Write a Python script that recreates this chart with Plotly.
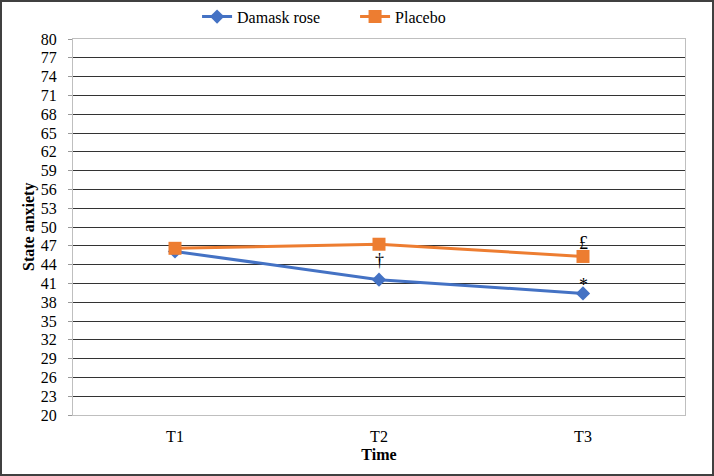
import plotly.graph_objects as go

categories = ["T1", "T2", "T3"]
damask = [46.1, 41.6, 39.4]
placebo = [46.6, 47.25, 45.3]
y_ticks = list(range(20, 81, 3))
damask_marks = ["", "†", "*"]
placebo_marks = ["", "", "£"]
damask_shift = [0, 20, 8]
placebo_shift = [0, 0, 13]

FONT = "Liberation Serif"

fig = go.Figure()
fig.add_trace(go.Scatter(
    x=categories, y=damask, name="Damask rose", mode="lines+markers",
    line=dict(color="#4472C4", width=3),
    marker=dict(symbol="diamond", size=11, color="#4472C4"),
))
fig.add_trace(go.Scatter(
    x=categories, y=placebo, name="Placebo", mode="lines+markers",
    line=dict(color="#ED7D31", width=3),
    marker=dict(symbol="square", size=13, color="#ED7D31"),
))

for c, v, t, s in zip(categories, damask, damask_marks, damask_shift):
    if t:
        fig.add_annotation(x=c, y=v, text=t, showarrow=False, yshift=s,
                           font=dict(family=FONT, size=18, color="black"))
for c, v, t, s in zip(categories, placebo, placebo_marks, placebo_shift):
    if t:
        fig.add_annotation(x=c, y=v, text=t, showarrow=False, yshift=s,
                           font=dict(family=FONT, size=18, color="black"))

W, H = 714, 476
ml, mr, mt, mb = 73, 29, 39, 61
pw, ph = W - ml - mr, H - mt - mb

fig.add_shape(type="rect", xref="paper", yref="paper",
              x0=(-ml + 1) / pw, x1=(pw + mr - 1) / pw,
              y0=(-mb + 1) / ph, y1=(ph + mt - 1) / ph,
              line=dict(color="#404040", width=2), layer="below")

# y-axis title placed as rotated text
fig.add_annotation(xref="paper", yref="paper", x=(29 - ml) / pw, y=0.5,
                   text="<b>State anxiety</b>", textangle=-90, showarrow=False,
                   xanchor="center", yanchor="middle",
                   font=dict(family=FONT, size=16, color="black"))

fig.update_layout(
    width=W, height=H,
    margin=dict(l=ml, r=mr, t=mt, b=mb, autoexpand=False),
    paper_bgcolor="white", plot_bgcolor="white",
    font=dict(family=FONT, size=16, color="black"),
    showlegend=True,
    legend=dict(orientation="h", x=0.276, xanchor="left", xref="container",
                y=0.965, yanchor="middle", yref="container",
                font=dict(family=FONT, size=16, color="black"),
                entrywidth=113, entrywidthmode="pixels",
                bgcolor="rgba(0,0,0,0)"),
    xaxis=dict(
        type="category", range=[-0.5, 2.5], automargin=False,
        title=dict(text="<b>Time</b>", font=dict(family=FONT, size=16), standoff=4),
        showgrid=False, showline=True, linecolor="#BFBFBF", linewidth=1,
        ticks="", tickfont=dict(family=FONT, size=16), mirror=True,
        ticklabelstandoff=7,
    ),
    yaxis=dict(
        range=[20, 80], tickvals=y_ticks, automargin=False,
        showgrid=True, gridcolor="#333333", gridwidth=1,
        showline=True, linecolor="#BFBFBF", linewidth=1, mirror=True,
        ticks="outside", ticklen=4, tickcolor="#999999",
        ticklabelstandoff=8,
        tickfont=dict(family=FONT, size=16), zeroline=False,
    ),
)

fig.write_html("out.html", post_script="document.body.style.margin='0';",
               config={"displayModeBar": False})
